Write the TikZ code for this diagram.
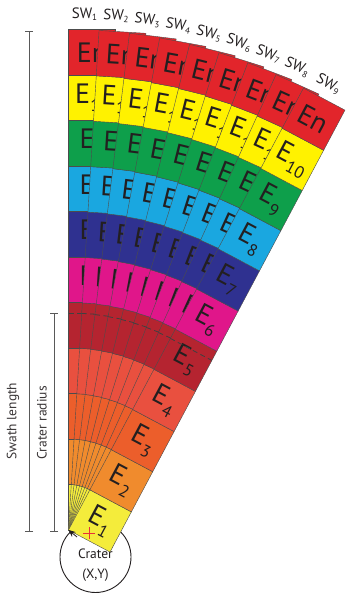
\documentclass[tikz,border=0pt]{standalone}
\usepackage{fontspec}
\setmainfont{PT Sans}
\usetikzlibrary{arrows.meta}
\definecolor{ec1}{HTML}{F4EC3B}
\definecolor{ec2}{HTML}{F08B2D}
\definecolor{ec3}{HTML}{EC5E2B}
\definecolor{ec4}{HTML}{E9503F}
\definecolor{ec5}{HTML}{B52430}
\definecolor{ec6}{HTML}{E0168A}
\definecolor{ec7}{HTML}{2F3190}
\definecolor{ec8}{HTML}{1AA7E0}
\definecolor{ec9}{HTML}{0E9F4B}
\definecolor{ec10}{HTML}{FFF200}
\definecolor{ec11}{HTML}{E2252B}
\definecolor{inkc}{HTML}{231F20}
\definecolor{crossred}{HTML}{E8303A}
\newcommand\esub[1]{E\kern0.3pt\raisebox{-0.3em}{\fontsize{17}{17}\selectfont#1}}
\begin{document}
\begin{tikzpicture}[x=1pt,y=1pt,
  ebox/.style={draw=black!70, line width=0.4pt, minimum width=47pt, minimum height=45.5pt,
    inner sep=0pt, transform shape, text=inkc, font=\fontsize{28}{28}\selectfont},
  swlab/.style={transform shape, inner sep=0pt, text=inkc, font=\fontsize{15}{15}\selectfont},
  dimbar/.style={draw=black!65, line width=0.9pt, {Bar[width=8pt]}-{Bar[width=8pt]}},
  dimtext/.style={rotate=90, inner sep=0pt, text=inkc!90, font=\fontsize{13.5}{13.5}\selectfont},
  cutline/.style={draw=black!75, line width=0.8pt, dash pattern=on 5pt off 3.5pt}]
\useasboundingbox (0,0) rectangle (358,600);
% crater
\node[circle, draw=inkc, line width=0.9pt, minimum size=71pt, inner sep=0pt] (crater) at (95.5,43) {};
\node[align=center, inner sep=0pt, text=inkc, font=\fontsize{13.5}{20}\selectfont] (cratertext) at (95.5,35) {Crater\\(X,Y)};
% swaths
\foreach \i in {0,...,8}{
  \pgfmathtruncatemacro\n{\i+1}
  \pgfmathsetmacro\swx{\i==8 ? 20 : 16}
  \begin{scope}[shift={(68.5,70)}, rotate={-3.5*\i}]
    \foreach \k in {1,...,11}{
      \node[ebox, fill=ec\k] (b\i-\k) at (23.5,{(\k-0.5)*45.5})
        {\ifnum\k=11 En\else\esub{\k}\fi};
    }
    \draw[cutline] (0,217) -- (47,217);
    \node[swlab] (sw\i) at (\swx,516) {SW\raisebox{-0.15em}{\fontsize{9}{9}\selectfont\n}};
  \end{scope}
}
% pivot marks
\coordinate (pivot) at (68.5,70);
\coordinate (arrtail) at (77,63);
\draw[inkc, line width=0.8pt, -{Stealth[length=7pt,width=6pt]}] (arrtail) -- (pivot);
\coordinate (crossc) at (89,67);
\draw[crossred, line width=0.6pt] ([xshift=-6pt]crossc) -- ([xshift=6pt]crossc)
  ([yshift=-6pt]crossc) -- ([yshift=6pt]crossc);
% dimension bars
\coordinate (slT) at (29,569);
\coordinate (slB) at (29,68);
\draw[dimbar] (slT) -- (slB);
\node[dimtext] (sltext) at (13,179) {Swath length};
\coordinate (crT) at (54,287);
\coordinate (crB) at (54,68);
\draw[dimbar] (crT) -- (crB);
\node[dimtext] (crtext) at (42,177) {Crater radius};
\end{tikzpicture}
\end{document}
